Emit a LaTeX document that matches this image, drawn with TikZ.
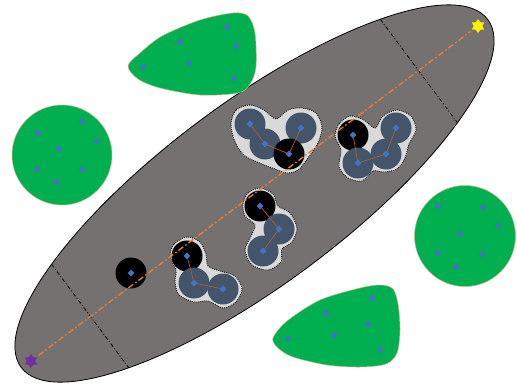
\documentclass[tikz,border=0pt]{standalone}
\usepackage{tikz}
\usetikzlibrary{shapes.geometric}

\definecolor{slate}{HTML}{44546A}
\definecolor{fieldgray}{HTML}{767171}
\definecolor{leaf}{HTML}{00B050}
\definecolor{dotblue}{HTML}{4472C4}
\definecolor{rust}{HTML}{ED7D31}
\definecolor{halogray}{HTML}{D9D9D9}
\definecolor{rim}{HTML}{C9B68E}
\definecolor{violet6}{HTML}{7030A0}

\begin{document}
\begin{tikzpicture}[x=1pt,y=-1pt,
  dot/.style={diamond,fill=dotblue,inner sep=0pt,minimum size=7pt},
  disc/.style={circle,fill=slate,inner sep=0pt,minimum size=31pt},
  hole/.style={circle,fill=black,inner sep=0pt,minimum size=31pt},
  halo/.style={draw=black,fill=halogray,line width=0.9pt,dash pattern=on 0.9pt off 1.1pt},
  link/.style={draw=rust!75!black,line width=0.7pt},
  blob/.style={fill=leaf,draw=rim,line width=0.5pt},
  divider/.style={draw=black,line width=0.8pt,dash pattern=on 4pt off 2pt on 1pt off 2pt},
  axisline/.style={draw=rust,line width=1.3pt,dash pattern=on 6pt off 2.5pt on 1.5pt off 2.5pt,shorten <=3pt,shorten >=3pt},
  endstar/.style={star,star points=6,star point ratio=1.6,inner sep=0pt,minimum size=14pt}]
  \useasboundingbox (0,0) rectangle (517,388);

  % field
  \begin{scope}[shift={(254.5,193.5)},rotate=36.7]
    \draw[fill=fieldgray,line width=0.8pt] (0,0) ellipse [x radius=291,y radius=91];
    \draw[divider] (-205,-64.6) -- (-205,64.6);
    \draw[divider] (205,-64.6) -- (205,64.6);
  \end{scope}

  % green regions
  \draw[blob] (62,155) circle [radius=50];
  \draw[blob] (465,236) circle [radius=50.5];
  \draw[blob] plot[smooth cycle] coordinates {(128,66) (140,53) (162,36) (200,20) (233,13) (248,16) (255,33) (256,67) (250,84) (238,93) (200,95) (160,88) (138,79)};
  \draw[blob] plot[smooth cycle] coordinates {(273,338) (287,321) (320,300) (360,288) (381,285) (393,289) (398,304) (400,330) (397,353) (386,364) (360,367) (327,365) (293,357) (278,348)};

  \foreach \x/\y [count=\i] in {227/27,180/42,236/46,189/63,143/67,234/78}
    \node[dot] (tb\i) at (\x,\y) {};
  \foreach \x/\y [count=\i] in {82/121,38/133,97/141,59/149,37/169,82/169,56/182}
    \node[dot] (lc\i) at (\x,\y) {};
  \foreach \x/\y [count=\i] in {438/206,483/207,498/226,460/234,438/253,482/254,456/267}
    \node[dot] (rc\i) at (\x,\y) {};
  \foreach \x/\y [count=\i] in {372/298,326/313,368/324,334/335,288/339,380/350}
    \node[dot] (bb\i) at (\x,\y) {};

  % groups
  \draw[halo] plot[smooth cycle] coordinates {(231,124) (236,110) (250,105) (264,110) (276,119) (288,110) (302,108) (316,113) (322,127) (318,143) (308,158) (298,170) (287,173) (275,169) (262,164) (245,156) (235,142)};
  \draw[halo] plot[smooth cycle] coordinates {(335,136) (339,124) (350,116) (364,120) (375,128) (383,116) (397,110) (411,116) (416,130) (409,144) (405,158) (397,169) (384,172) (373,171) (362,181) (348,178) (339,167) (341,150)};
  \draw[halo] plot[smooth cycle] coordinates {(170,256) (174,244) (187,237) (200,242) (206,254) (208,266) (220,271) (235,276) (242,289) (236,302) (223,308) (208,301) (194,302) (179,295) (175,282) (176,270)};
  \draw[halo] plot[smooth cycle] coordinates {(243,204) (248,193) (260,188) (273,194) (278,206) (290,213) (297,228) (292,242) (282,249) (281,262) (268,270) (252,265) (245,250) (251,236) (255,225) (245,216)};

  \node[disc] (a1) at (250,124) {};
  \node[disc] (a2) at (265,144) {};
  \node[disc] (a4) at (301,128) {};
  \node[hole] (a3) at (289,154) {};

  \node[hole] (b1) at (353,135) {};
  \node[disc] (b2) at (358,163) {};
  \node[disc] (b3) at (386,154) {};
  \node[disc] (b4) at (396,128) {};

  \node[hole] (c1) at (187,256) {};
  \node[disc] (c2) at (194,283) {};
  \node[disc] (c3) at (223,289) {};

  \node[hole] (d1) at (260,206) {};
  \node[disc] (d2) at (279,229) {};
  \node[disc] (d3) at (263,251) {};

  \node[hole] (e1) at (131,273) {};

  \draw[link] (a1.center) -- (a2.center) -- (a3.center) -- (a4.center);
  \draw[link] (b1.center) -- (b2.center) -- (b3.center) -- (b4.center);
  \draw[link] (c1.center) -- (c2.center) -- (c3.center);
  \draw[link] (d1.center) -- (d2.center) -- (d3.center);

  \foreach \n in {a1,a2,a3,a4,b1,b2,b3,b4,c1,c2,c3,d1,d2,d3,e1}
    \node[dot] (\n-d) at (\n) {};

  % route
  \node[endstar,fill=violet6] (src) at (31,361) {};
  \node[endstar,fill=yellow] (dst) at (478,26) {};
  \draw[axisline] (src) -- (dst);
\end{tikzpicture}
\end{document}
